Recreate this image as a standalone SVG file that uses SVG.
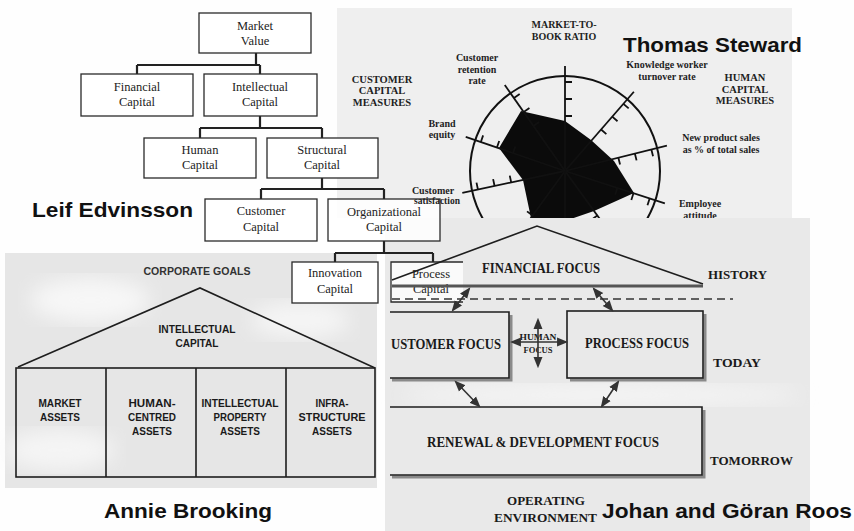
<svg xmlns="http://www.w3.org/2000/svg" xmlns:xlink="http://www.w3.org/1999/xlink" width="854" height="531" viewBox="0 0 854 531">
<style>
.box{fill:#fff;stroke:#2a2a2a;stroke-width:1.3}
.conn{fill:none;stroke:#222;stroke-width:2.2}
.ed{font-family:"Liberation Serif","Times New Roman",serif;font-size:12.5px;fill:#222;text-anchor:middle}
.st{font-family:"Liberation Serif","Times New Roman",serif;font-size:10px;font-weight:bold;fill:#1e1e1e;text-anchor:middle}
.name{font-family:"Liberation Sans",Arial,sans-serif;font-size:21px;font-weight:bold;fill:#111}
.br{font-family:"Liberation Sans",Arial,sans-serif;font-size:11.5px;font-weight:bold;fill:#1a1a1a;text-anchor:middle}
.ro{font-family:"Liberation Serif","Times New Roman",serif;font-size:14px;font-weight:bold;fill:#1a1a1a}
.rline{fill:none;stroke:#1e1e1e;stroke-width:1.6}
.shadow{fill:none;stroke:#8a8a8a;stroke-width:3}
.arr{fill:none;stroke:#333;stroke-width:1.6;marker-start:url(#ah);marker-end:url(#ah)}
</style>
<defs>
<marker id="ah" viewBox="0 0 10 10" refX="8" refY="5" markerWidth="7" markerHeight="7" orient="auto-start-reverse">
<path d="M0,1 L10,5 L0,9 z" fill="#333"/>
</marker>
<clipPath id="stClip"><rect x="337" y="8" width="455" height="210"/></clipPath>
<g id="axis" fill="none" stroke="#111" stroke-width="1.8">
<line x1="0" y1="0" x2="105" y2="0"/>
<path d="M55,0v7M72,0v7M89,0v7"/>
</g>
<filter id="blur"><feGaussianBlur stdDeviation="10"/></filter>
</defs>

<rect x="0" y="0" width="854" height="531" fill="#fefefe"/>

<!-- Steward background & radar -->
<g id="steward" clip-path="url(#stClip)">
<rect x="337" y="8" width="455" height="210" fill="#efefef"/>
<circle cx="565" cy="171" r="95" fill="none" stroke="#111" stroke-width="2"/>
<polygon points="521,111 565,121 591,140 614,161 634,193 594,211 565,221 531,218 523,180 499,148" fill="#0b0b0b"/>
<use xlink:href="#axis" transform="translate(565,171) rotate(-90)"/>
<use xlink:href="#axis" transform="translate(565,171) rotate(-49)"/>
<use xlink:href="#axis" transform="translate(565,171) rotate(-14)"/>
<use xlink:href="#axis" transform="translate(565,171) rotate(18)"/>
<use xlink:href="#axis" transform="translate(565,171) rotate(54)"/>
<use xlink:href="#axis" transform="translate(565,171) rotate(90)"/>
<use xlink:href="#axis" transform="translate(565,171) rotate(126)"/>
<use xlink:href="#axis" transform="translate(565,171) rotate(168)"/>
<use xlink:href="#axis" transform="translate(565,171) rotate(-161)"/>
<use xlink:href="#axis" transform="translate(565,171) rotate(-125)"/>
<text class="st" x="564" y="28">MARKET-TO-</text>
<text class="st" x="564" y="40">BOOK RATIO</text>
<text class="st" x="477" y="61">Customer</text>
<text class="st" x="477" y="73">retention</text>
<text class="st" x="477" y="84">rate</text>
<text class="st" x="382" y="83" style="font-size:10.5px">CUSTOMER</text>
<text class="st" x="382" y="94" style="font-size:10.5px">CAPITAL</text>
<text class="st" x="382" y="106" style="font-size:10.5px">MEASURES</text>
<text class="st" x="442" y="127">Brand</text>
<text class="st" x="442" y="138">equity</text>
<text class="st" x="667" y="68">Knowledge worker</text>
<text class="st" x="667" y="80">turnover rate</text>
<text class="st" x="745" y="81" style="font-size:10.5px">HUMAN</text>
<text class="st" x="745" y="93" style="font-size:10.5px">CAPITAL</text>
<text class="st" x="745" y="104" style="font-size:10.5px">MEASURES</text>
<text class="st" x="721" y="141">New product sales</text>
<text class="st" x="721" y="153">as % of total sales</text>
<text class="st" x="700" y="207">Employee</text>
<text class="st" x="700" y="219">attitude</text>
</g>

<!-- Roos background -->
<rect x="385" y="218" width="425" height="313" fill="#e9e9e9"/>
<ellipse cx="600" cy="395" rx="200" ry="10" fill="#f6f6f6" filter="url(#blur)"/>

<!-- Brooking -->
<g id="brooking">
<rect x="5" y="253" width="372" height="235" fill="#e6e6e6"/>
<ellipse cx="90" cy="300" rx="60" ry="22" fill="#f7f7f7" filter="url(#blur)"/>
<ellipse cx="300" cy="320" rx="50" ry="18" fill="#f5f5f5" filter="url(#blur)"/>
<ellipse cx="60" cy="450" rx="55" ry="20" fill="#f5f5f5" filter="url(#blur)"/>
<text class="br" x="197" y="275" textLength="107" lengthAdjust="spacingAndGlyphs" style="font-size:10px;fill:#333">CORPORATE GOALS</text>
<polyline points="18,367 200,288 375,368" fill="none" stroke="#1e1e1e" stroke-width="1.6"/>
<text class="br" x="197" y="333" textLength="77" lengthAdjust="spacingAndGlyphs">INTELLECTUAL</text>
<text class="br" x="197" y="347" textLength="43" lengthAdjust="spacingAndGlyphs">CAPITAL</text>
<rect x="16" y="368" width="359" height="109" fill="none" stroke="#1e1e1e" stroke-width="1.6"/>
<path d="M106,368V477M196,368V477M286,368V477" stroke="#1e1e1e" stroke-width="1.6"/>
<text class="br" x="60" y="407" textLength="43" lengthAdjust="spacingAndGlyphs">MARKET</text>
<text class="br" x="60" y="421" textLength="40" lengthAdjust="spacingAndGlyphs">ASSETS</text>
<text class="br" x="152" y="407" textLength="47" lengthAdjust="spacingAndGlyphs">HUMAN-</text>
<text class="br" x="152" y="421" textLength="48" lengthAdjust="spacingAndGlyphs">CENTRED</text>
<text class="br" x="152" y="435" textLength="40" lengthAdjust="spacingAndGlyphs">ASSETS</text>
<text class="br" x="240" y="407" textLength="77" lengthAdjust="spacingAndGlyphs">INTELLECTUAL</text>
<text class="br" x="240" y="421" textLength="53" lengthAdjust="spacingAndGlyphs">PROPERTY</text>
<text class="br" x="240" y="435" textLength="40" lengthAdjust="spacingAndGlyphs">ASSETS</text>
<text class="br" x="332" y="407" textLength="33" lengthAdjust="spacingAndGlyphs">INFRA-</text>
<text class="br" x="332" y="421" textLength="67" lengthAdjust="spacingAndGlyphs">STRUCTURE</text>
<text class="br" x="332" y="435" textLength="40" lengthAdjust="spacingAndGlyphs">ASSETS</text>
</g>

<!-- Edvinsson connectors -->
<g id="edvinsson-connectors">
<path class="conn" d="M256,53V65M137,65H260M137,65V74M260,65V74"/>
<path class="conn" d="M260,116V128M200,128H322M200,128V138M322,128V138"/>
<path class="conn" d="M322,178V189M261,189H384M261,189V199M384,189V199"/>
<path class="conn" d="M384,241V253M335,253H433M335,253V262M433,253V262"/>
</g>

<!-- Edvinsson nodes -->
<g id="market-value"><rect class="box" x="199" y="13" width="112" height="40"/><text class="ed" x="255" y="30">Market</text><text class="ed" x="255" y="45">Value</text></g>
<g id="financial-capital"><rect class="box" x="81" y="74" width="112" height="42"/><text class="ed" x="137" y="91">Financial</text><text class="ed" x="137" y="106">Capital</text></g>
<g id="intellectual-capital"><rect class="box" x="204" y="74" width="113" height="42"/><text class="ed" x="260" y="91">Intellectual</text><text class="ed" x="260" y="106">Capital</text></g>
<g id="human-capital"><rect class="box" x="144" y="138" width="112" height="40"/><text class="ed" x="200" y="154">Human</text><text class="ed" x="200" y="169">Capital</text></g>
<g id="structural-capital"><rect class="box" x="267" y="138" width="111" height="40"/><text class="ed" x="322" y="154">Structural</text><text class="ed" x="322" y="169">Capital</text></g>
<g id="customer-capital"><rect class="box" x="205" y="199" width="112" height="42"/><text class="ed" x="261" y="215">Customer</text><text class="ed" x="261" y="231">Capital</text></g>
<g id="organizational-capital"><rect class="box" x="328" y="199" width="112" height="42" style="fill-opacity:0.85"/><text class="ed" x="384" y="216">Organizational</text><text class="ed" x="384" y="231">Capital</text></g>
<g id="innovation-capital"><rect class="box" x="292" y="262" width="86" height="41"/><text class="ed" x="335" y="277">Innovation</text><text class="ed" x="335" y="293">Capital</text></g>
<g id="process-capital"><path d="M463,262H391V302H463Z" fill="#fafafa" stroke="none"/><path d="M463,262H391V302H463" fill="none" stroke="#2a2a2a" stroke-width="1.3"/><text class="ed" x="431" y="278">Process</text><text class="ed" x="431" y="293">Capital</text></g>

<!-- Steward label overlapping the Edvinsson box, as in the scan -->
<g id="steward-satisfaction">
<text class="st" x="433" y="194">Customer</text>
<text class="st" x="437" y="204" style="font-size:9.5px">satisfaction</text>
</g>

<!-- Roos -->
<g id="roos-financial">
<polyline class="rline" points="392,280 537,226 703,284"/>
<line x1="392" y1="286" x2="703" y2="286" stroke="#555" stroke-width="3"/>
<text class="ro" x="482" y="273" textLength="118" lengthAdjust="spacingAndGlyphs">FINANCIAL FOCUS</text>
</g>
<line x1="392" y1="299" x2="733" y2="299" stroke="#333" stroke-width="1.5" stroke-dasharray="8 5"/>
<g id="roos-customer">
<path class="shadow" d="M511,315V380H392"/>
<path class="rline" d="M390,312H509V378H390"/>
<text class="ro" x="391" y="349" textLength="110" lengthAdjust="spacingAndGlyphs">USTOMER FOCUS</text>
</g>
<g id="roos-process">
<path class="shadow" d="M705,314V380H570"/>
<rect class="rline" x="567" y="311" width="136" height="67"/>
<text class="ro" x="585" y="348" textLength="104" lengthAdjust="spacingAndGlyphs">PROCESS FOCUS</text>
</g>
<g id="roos-human">
<text class="ro" x="538" y="340" text-anchor="middle" textLength="37" lengthAdjust="spacingAndGlyphs" style="font-size:9px">HUMAN</text>
<text class="ro" x="538" y="353" text-anchor="middle" textLength="29" lengthAdjust="spacingAndGlyphs" style="font-size:9px">FOCUS</text>
</g>
<g id="roos-renewal">
<path class="shadow" d="M704,410V477H392"/>
<path class="rline" d="M390,407H702V475H390"/>
<text class="ro" x="427" y="447" textLength="232" lengthAdjust="spacingAndGlyphs">RENEWAL &amp; DEVELOPMENT FOCUS</text>
</g>
<g id="roos-connectors">
<line class="arr" x1="538" y1="320" x2="538" y2="366"/>
<line class="arr" x1="512" y1="342" x2="566" y2="342"/>
<line class="arr" x1="469" y1="289" x2="453" y2="310"/>
<line class="arr" x1="594" y1="289" x2="612" y2="310"/>
<line class="arr" x1="456" y1="382" x2="479" y2="406"/>
<line class="arr" x1="618" y1="382" x2="602" y2="406"/>
</g>
<text class="ro" x="708" y="279" textLength="59" lengthAdjust="spacingAndGlyphs" style="font-size:13px">HISTORY</text>
<text class="ro" x="713" y="367" textLength="48" lengthAdjust="spacingAndGlyphs" style="font-size:13px">TODAY</text>
<text class="ro" x="710" y="465" textLength="83" lengthAdjust="spacingAndGlyphs" style="font-size:13px">TOMORROW</text>
<text class="ro" x="507" y="505" textLength="78" lengthAdjust="spacingAndGlyphs" style="font-size:12px">OPERATING</text>
<text class="ro" x="494" y="522" textLength="103" lengthAdjust="spacingAndGlyphs" style="font-size:12px">ENVIRONMENT</text>

<!-- Author names -->
<text class="name" x="32" y="217" textLength="161" lengthAdjust="spacingAndGlyphs">Leif Edvinsson</text>
<text class="name" x="623" y="52" textLength="179" lengthAdjust="spacingAndGlyphs">Thomas Steward</text>
<text class="name" x="104" y="518" textLength="168" lengthAdjust="spacingAndGlyphs">Annie Brooking</text>
<text class="name" x="602" y="518" textLength="250" lengthAdjust="spacingAndGlyphs">Johan and Göran Roos</text>
</svg>
